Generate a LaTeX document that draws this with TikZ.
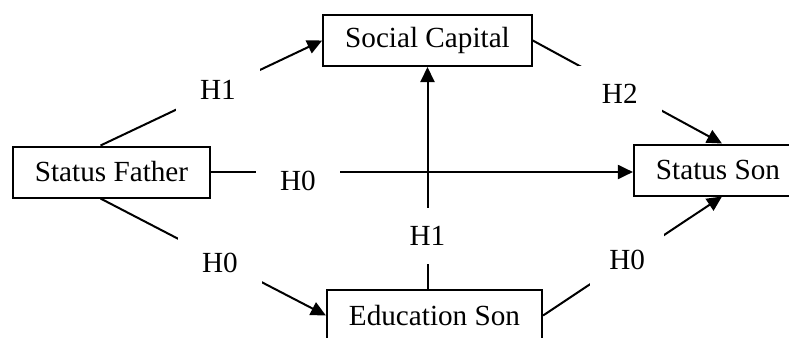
\documentclass[tikz,border=0pt]{standalone}
\usepackage{fontspec}
\setmainfont{Liberation Serif}
\usetikzlibrary{arrows.meta, calc}
\tikzset{
    >={Triangle[length=7.5pt, width=7pt]},
    % Shapes
    var/.style={rectangle, draw, line width=1pt, inner xsep=11pt, inner ysep=0pt,
                minimum height=25.5pt, font=\fontsize{14.6}{16}\selectfont},
    hyp/.style={fill=white, inner sep=0pt, minimum width=42pt, minimum height=28pt,
                font=\fontsize{14.6}{16}\selectfont},
    % Flow
    path/.style={->, line width=1pt}
}

\begin{document}
\begin{tikzpicture}[x=0.5pt, y=-0.5pt]
\useasboundingbox (0,0) rectangle (789,338);
\clip (0,0) rectangle (789,338);

% Variables
\node[var] (father) at (111.5,172) {Status Father};
\node[var] (capital) at (427.5,40.5) {Social Capital};
\node[var] (son) at (718,170) {Status Son};
\node[var] (educ) at (434.5,315.5) {Education Son};

% Paths
\draw[path] ($(father.north)+(-11,0)$) -- node[hyp, pos=0.53] {H1} (capital.west);
\draw[path] (father.east) -- node[hyp, pos=0.22, yshift=-4.5pt, xshift=-3pt] {H0} (father.east -| son.west);
\draw[path] ($(father.south)+(-11,0)$) -- node[hyp, pos=0.53, yshift=-1pt] {H0} (educ.west);
\draw[path] (capital.south |- educ.north) -- node[hyp, pos=0.24] {H1} (capital.south);
\draw[path] (capital.east) -- node[hyp, pos=0.46, yshift=-3pt] {H2} ($(son.north)+(4,0)$);
\draw[path] (educ.east) -- node[hyp, pos=0.47, minimum width=37pt] {H0} ($(son.south)+(4,0)$);

\end{tikzpicture}
\end{document}
